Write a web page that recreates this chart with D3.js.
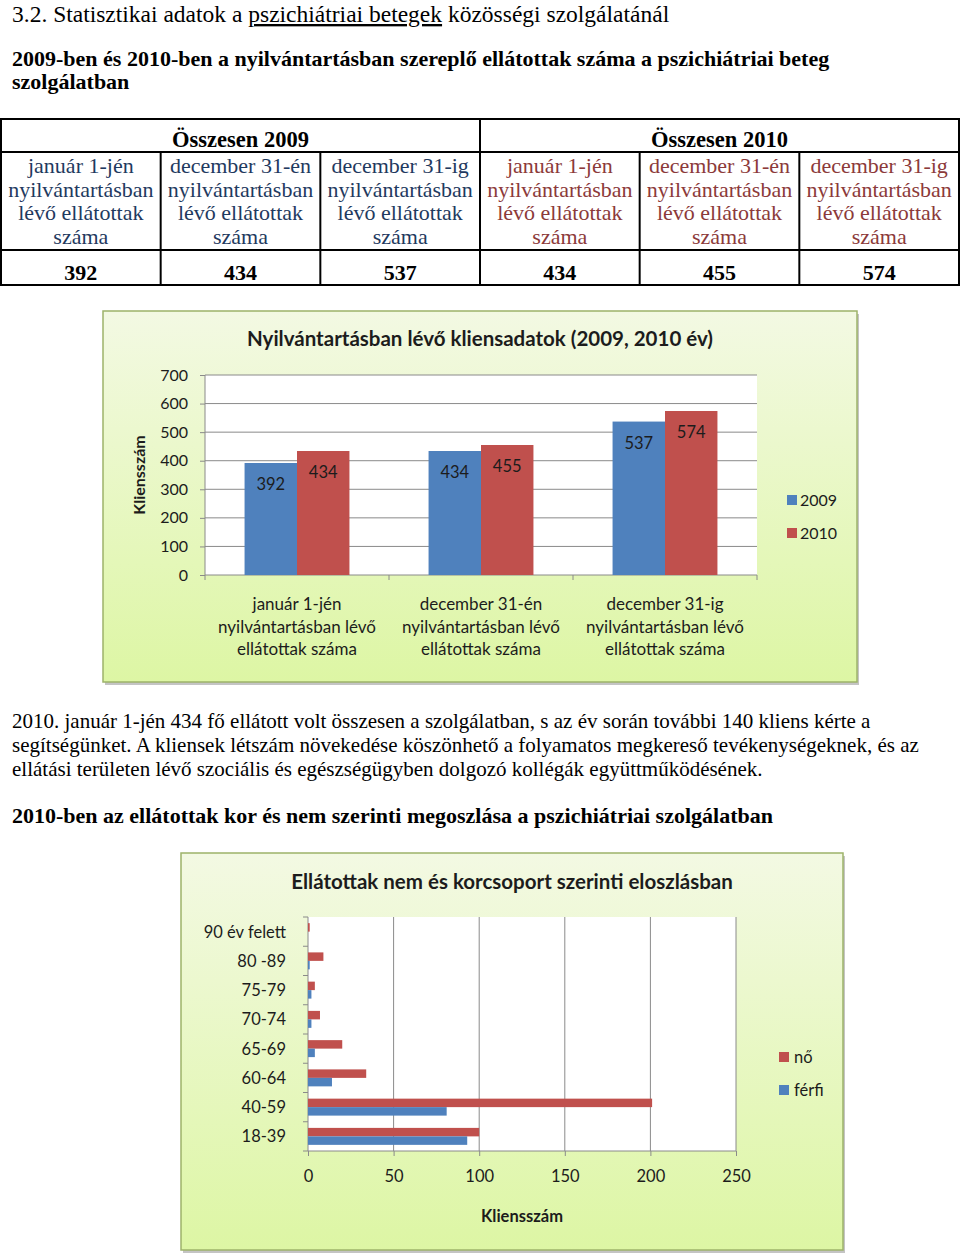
<!DOCTYPE html>
<html lang="hu">
<head>
<meta charset="utf-8">
<title>Statisztikai adatok</title>
<script src="https://cdn.jsdelivr.net/npm/d3@7"></script>
<style>
  html, body { margin: 0; padding: 0; background: #fff; }
  svg { display: block; }
  .doc { font-family: "Liberation Serif", "DejaVu Serif", serif; fill: #000; }
  .chart text { font-family: Lato, "Open Sans", sans-serif; fill: #1c1c1c; }
  .chart .domain { display: none; }
</style>
</head>
<body>
<svg id="page" width="960" height="1256"></svg>
<script>
/* ---- Data ------------------------------------------------------------ */
const sectionTitle = ['3.2. Statisztikai adatok a ', 'pszichiátriai betegek', ' közösségi szolgálatánál'];
const tableTitle = ['2009-ben és 2010-ben a nyilvántartásban szereplő ellátottak száma a pszichiátriai beteg', 'szolgálatban'];
const years = ['2009', '2010'];
const tableHeadLines = ['január 1-jén|nyilvántartásban|lévő ellátottak|száma',
                        'december 31-én|nyilvántartásban|lévő ellátottak|száma',
                        'december 31-ig|nyilvántartásban|lévő ellátottak|száma'];
const statusLabels = ['január 1-jén|nyilvántartásban lévő|ellátottak száma',
                      'december 31-én|nyilvántartásban lévő|ellátottak száma',
                      'december 31-ig|nyilvántartásban lévő|ellátottak száma'];
const values2009 = [392, 434, 537];
const values2010 = [434, 455, 574];
const chart1Title = 'Nyilvántartásban lévő kliensadatok (2009, 2010 év)';
const yTicks1 = [0, 100, 200, 300, 400, 500, 600, 700];

const paragraph = ['2010. január 1-jén 434 fő ellátott volt összesen a szolgálatban, s az év során további 140 kliens kérte a',
                   'segítségünket. A kliensek létszám növekedése köszönhető a folyamatos megkereső tevékenységeknek, és az',
                   'ellátási területen lévő szociális és egészségügyben dolgozó kollégák együttműködésének.'];
const ageTitle = '2010-ben az ellátottak kor és nem szerinti megoszlása a pszichiátriai szolgálatban';

const chart2Title = 'Ellátottak nem és korcsoport szerinti eloszlásban';
const ageGroups = ['90 év felett', '80 -89', '75-79', '70-74', '65-69', '60-64', '40-59', '18-39'];
const sexes = ['nő', 'férfi'];
const noValues = [1, 9, 4, 7, 20, 34, 201, 100];
const ferfiValues = [0, 1, 2, 2, 4, 14, 81, 93];
const xTicks2 = [0, 50, 100, 150, 200, 250];

const BLUE = '#4f81bd', RED = '#c0504d';

const svg = d3.select('#page');
const defs = svg.append('defs');
const grad = defs.append('linearGradient').attr('id', 'bg').attr('x1', 0).attr('y1', 0).attr('x2', 0).attr('y2', 1);
grad.append('stop').attr('offset', '0%').attr('stop-color', '#f3f9e3');
grad.append('stop').attr('offset', '100%').attr('stop-color', '#ddf6a4');

/* ---- Document text ---------------------------------------------------- */
const doc = svg.append('g').attr('class', 'doc');
const h = doc.append('text').attr('x', 12).attr('y', 22).style('font-size', '23.5px');
sectionTitle.forEach((s, i) => {
  h.append('tspan').text(s).style('text-decoration', i === 1 ? 'underline' : null);
});
tableTitle.forEach((s, i) => {
  doc.append('text').attr('x', 12).attr('y', 66 + i * 23).style('font-size', '22px')
    .style('font-weight', 'bold').text(s);
});

/* ---- Table -------------------------------------------------------------- */
const tb = doc.append('g');
const colX = d3.scaleBand().domain(d3.range(6)).range([1, 959]);
const rowY = [119, 152, 250, 285];
tb.append('rect').attr('x', 1).attr('y', rowY[0]).attr('width', 958).attr('height', rowY[3] - rowY[0])
  .attr('fill', 'none').attr('stroke', '#000').attr('stroke-width', 2);
[rowY[1], rowY[2]].forEach(y => tb.append('line').attr('x1', 1).attr('x2', 959).attr('y1', y).attr('y2', y)
  .attr('stroke', '#000').attr('stroke-width', 2));
d3.range(1, 6).forEach(i => {
  tb.append('line').attr('x1', colX(i)).attr('x2', colX(i))
    .attr('y1', i === 3 ? rowY[0] : rowY[1]).attr('y2', rowY[3])
    .attr('stroke', '#000').attr('stroke-width', 2);
});
years.forEach((yr, yi) => {
  tb.append('text').attr('x', colX(yi * 3 + 1) + colX.bandwidth() / 2).attr('y', 147)
    .attr('text-anchor', 'middle').style('font-size', '22.5px').style('font-weight', 'bold')
    .text('Összesen ' + yr);
  const vals = yi === 0 ? values2009 : values2010;
  tableHeadLines.forEach((lab, ci) => {
    const cx = colX(yi * 3 + ci) + colX.bandwidth() / 2;
    const t = tb.append('text').attr('x', cx).attr('text-anchor', 'middle')
      .style('font-size', '22px').style('fill', yi === 0 ? '#1f3a60' : '#8c3a3a');
    lab.split('|').forEach((ln, li) => t.append('tspan').attr('x', cx).attr('y', 173 + li * 23.5).text(ln));
    tb.append('text').attr('x', cx).attr('y', 280).attr('text-anchor', 'middle')
      .style('font-size', '22px').style('font-weight', 'bold').text(vals[ci]);
  });
});

/* ---- Paragraph ---------------------------------------------------------- */
paragraph.forEach((s, i) => {
  doc.append('text').attr('x', 12).attr('y', 728 + i * 24).style('font-size', '21px').text(s);
});
doc.append('text').attr('x', 12).attr('y', 823).style('font-size', '22px').style('font-weight', 'bold').text(ageTitle);

/* ---- Chart frame helper --------------------------------------------------- */
function frame(x0, y0, x1, y1) {
  const g = svg.append('g').attr('class', 'chart');
  g.append('rect').attr('x', x0 + 2).attr('y', y0 + 3).attr('width', x1 - x0).attr('height', y1 - y0)
    .attr('fill', '#c4c4c4');
  g.append('rect').attr('x', x0).attr('y', y0).attr('width', x1 - x0).attr('height', y1 - y0)
    .attr('fill', 'url(#bg)').attr('stroke', '#9db36a').attr('stroke-width', 1.5);
  return g;
}

/* ---- Chart 1: grouped columns ------------------------------------------- */
const c1 = { left: 205, right: 757, top: 375, bottom: 575 };
const g1 = frame(103, 311, 857, 682);
g1.append('text').attr('x', 480).attr('y', 346).attr('text-anchor', 'middle')
  .style('font-size', '20.5px').style('font-weight', 'bold').text(chart1Title);
g1.append('rect').attr('x', c1.left).attr('y', c1.top).attr('width', c1.right - c1.left)
  .attr('height', c1.bottom - c1.top).attr('fill', '#fff');

const x1 = d3.scaleBand().domain(d3.range(statusLabels.length)).range([c1.left, c1.right])
  .paddingInner(0.43).paddingOuter(0.215);
const x1s = d3.scaleBand().domain(years).range([0, x1.bandwidth()]);
const y1 = d3.scaleLinear().domain([0, 700]).range([c1.bottom, c1.top]);

g1.append('g').selectAll('line').data(yTicks1).join('line')
  .attr('x1', c1.left).attr('x2', c1.right).attr('y1', d => y1(d)).attr('y2', d => y1(d))
  .attr('stroke', '#8a8a8a').attr('stroke-width', 1);

const ax1 = g1.append('g').attr('transform', `translate(${c1.left},0)`)
  .call(d3.axisLeft(y1).tickValues(yTicks1).tickSize(5).tickPadding(12));
ax1.selectAll('text').style('font-size', '16px');
ax1.selectAll('line').attr('stroke', '#8a8a8a');
g1.append('line').attr('x1', c1.left).attr('x2', c1.left).attr('y1', c1.top).attr('y2', c1.bottom)
  .attr('stroke', '#8a8a8a');

// category boundary ticks
g1.append('g').selectAll('line').data(d3.range(statusLabels.length + 1)).join('line')
  .attr('x1', i => c1.left + i * x1.step()).attr('x2', i => c1.left + i * x1.step())
  .attr('y1', c1.bottom).attr('y2', c1.bottom + 5).attr('stroke', '#8a8a8a');

const series1 = years.map((yr, i) => ({ key: yr, color: i === 0 ? BLUE : RED, vals: i === 0 ? values2009 : values2010 }));
series1.forEach(s => {
  const gs = g1.append('g');
  gs.selectAll('rect').data(s.vals).join('rect')
    .attr('x', (d, i) => x1(i) + x1s(s.key)).attr('width', x1s.bandwidth())
    .attr('y', d => y1(d)).attr('height', d => c1.bottom - y1(d)).attr('fill', s.color);
  gs.selectAll('text').data(s.vals).join('text')
    .attr('x', (d, i) => x1(i) + x1s(s.key) + x1s.bandwidth() / 2).attr('y', d => y1(d) + 27)
    .attr('text-anchor', 'middle').style('font-size', '16.5px').text(d => d);
});

statusLabels.forEach((lab, i) => {
  const cx = x1(i) + x1.bandwidth() / 2;
  const t = g1.append('text').attr('text-anchor', 'middle').style('font-size', '17px');
  lab.split('|').forEach((ln, li) => t.append('tspan').attr('x', cx).attr('y', 610 + li * 22.5).text(ln));
});

g1.append('text').attr('transform', `translate(145,${(c1.top + c1.bottom) / 2}) rotate(-90)`)
  .attr('text-anchor', 'middle').style('font-size', '16px').style('font-weight', 'bold').text('Kliensszám');

series1.forEach((s, i) => {
  g1.append('rect').attr('x', 787).attr('y', 495 + i * 33).attr('width', 10).attr('height', 10).attr('fill', s.color);
  g1.append('text').attr('x', 800).attr('y', 506 + i * 33).style('font-size', '16px').text(s.key);
});

/* ---- Chart 2: horizontal grouped bars ------------------------------------ */
const c2 = { left: 308, right: 736, top: 917, bottom: 1151 };
const g2 = frame(181, 853, 843, 1250);
g2.append('text').attr('x', 512).attr('y', 889).attr('text-anchor', 'middle')
  .style('font-size', '20.5px').style('font-weight', 'bold').text(chart2Title);
g2.append('rect').attr('x', c2.left).attr('y', c2.top).attr('width', c2.right - c2.left)
  .attr('height', c2.bottom - c2.top).attr('fill', '#fff');

const x2 = d3.scaleLinear().domain([0, 250]).range([c2.left, c2.right]);
const y2 = d3.scaleBand().domain(ageGroups).range([c2.top, c2.bottom]).paddingInner(0.42).paddingOuter(0.21);
const y2s = d3.scaleBand().domain(sexes).range([0, y2.bandwidth()]);

g2.append('g').selectAll('line').data(xTicks2.slice(1)).join('line')
  .attr('x1', d => x2(d)).attr('x2', d => x2(d)).attr('y1', c2.top).attr('y2', c2.bottom)
  .attr('stroke', '#8a8a8a');
g2.append('line').attr('x1', c2.left).attr('x2', c2.left).attr('y1', c2.top).attr('y2', c2.bottom).attr('stroke', '#8a8a8a');
g2.append('line').attr('x1', c2.left).attr('x2', c2.right).attr('y1', c2.bottom).attr('y2', c2.bottom).attr('stroke', '#8a8a8a');

const ax2 = g2.append('g').attr('transform', `translate(0,${c2.bottom})`)
  .call(d3.axisBottom(x2).tickValues(xTicks2).tickSize(5).tickPadding(14));
ax2.selectAll('text').style('font-size', '16.5px');
ax2.selectAll('line').attr('stroke', '#8a8a8a');

g2.append('g').selectAll('line').data(d3.range(ageGroups.length + 1)).join('line')
  .attr('x1', c2.left - 5).attr('x2', c2.left)
  .attr('y1', i => c2.top + i * y2.step()).attr('y2', i => c2.top + i * y2.step()).attr('stroke', '#8a8a8a');

g2.append('g').selectAll('text').data(ageGroups).join('text')
  .attr('x', 286).attr('y', d => y2(d) + y2.bandwidth() / 2 + 6)
  .attr('text-anchor', 'end').style('font-size', '16.5px').text(d => d);

const series2 = [{ key: 'nő', color: RED, vals: noValues }, { key: 'férfi', color: BLUE, vals: ferfiValues }];
series2.forEach(s => {
  g2.append('g').selectAll('rect').data(s.vals).join('rect')
    .attr('x', c2.left).attr('y', (d, i) => y2(ageGroups[i]) + y2s(s.key))
    .attr('width', d => x2(d) - c2.left).attr('height', y2s.bandwidth()).attr('fill', s.color);
});

g2.append('text').attr('x', (c2.left + c2.right) / 2).attr('y', 1222).attr('text-anchor', 'middle')
  .style('font-size', '16.5px').style('font-weight', 'bold').text('Kliensszám');

series2.forEach((s, i) => {
  g2.append('rect').attr('x', 779).attr('y', 1052 + i * 33).attr('width', 10).attr('height', 10).attr('fill', s.color);
  g2.append('text').attr('x', 794).attr('y', 1063 + i * 33).style('font-size', '16.5px').text(s.key);
});
</script>
</body>
</html>
